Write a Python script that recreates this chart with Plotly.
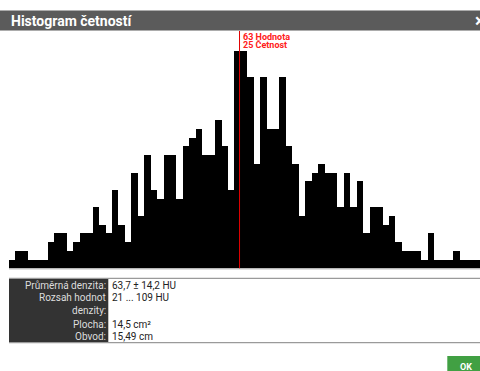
import plotly.graph_objects as go

# ---------------- data ----------------
counts = [1, 2, 2, 1, 1, 1, 3, 4, 4, 2, 3, 4, 4, 7, 5, 4, 9, 5, 3, 11,
          6, 13, 9, 8, 13, 13, 8, 14, 15, 16, 13, 13, 17, 14, 9, 25, 25, 22, 12, 22,
          16, 16, 22, 14, 12, 6, 10, 11, 12, 11, 11, 7, 11, 7, 10, 4, 7, 7, 5, 6,
          3, 2, 2, 2, 1, 4, 1, 1, 1, 2, 1, 1, 1, 1]
hu_min, hu_max = 21, 109
n_bins = 75
marker_value = 63
marker_count = 25
title = "Histogram četností"
table_labels = ["Průměrná denzita:", "Rozsah hodnot", "denzity:", "Plocha:", "Obvod:"]
table_values = ["63,7 ± 14,2 HU", "21 ... 109 HU", "", "14,5 cm²", "15,49 cm"]

W, H = 480, 371
def px(x):
    return x / W
def py(y):
    return 1 - y / H

bw = (hu_max - hu_min) / n_bins
centers = [hu_min + (i + 0.5) * bw for i in range(len(counts))]

FONT = "Roboto, Arial, sans-serif"

fig = go.Figure()
fig.add_trace(go.Bar(x=centers, y=counts, width=bw,
                     marker=dict(color="#000000", line=dict(width=0)),
                     hoverinfo="skip"))

bin_px = 6.44
plot_left, plot_right = 9, 480
x_right = hu_min + (plot_right - plot_left) / bin_px * bw
base_y, top_y = 268.3, 31.0
unit_px = (268.3 - 50.7) / 25
y_top = (base_y - top_y) / unit_px

fig.update_layout(
    width=W, height=H,
    margin=dict(l=0, r=0, t=0, b=0),
    paper_bgcolor="white", plot_bgcolor="white",
    showlegend=False, bargap=0,
    xaxis=dict(domain=[px(plot_left), px(plot_right)], range=[hu_min, x_right],
               showgrid=False, zeroline=False, showticklabels=False, showline=False,
               fixedrange=True),
    yaxis=dict(domain=[py(base_y), py(top_y)], range=[0, y_top],
               showgrid=False, zeroline=False, showticklabels=False, showline=False,
               fixedrange=True),
)

shapes = []
# header bar
shapes.append(dict(type="rect", xref="paper", yref="paper", x0=0, x1=1,
                   y0=py(30.5), y1=py(10.5), fillcolor="#5b5b5b", line=dict(width=0), layer="above"))
# baseline
shapes.append(dict(type="line", xref="paper", yref="paper", x0=px(9), x1=1,
                   y0=py(268.8), y1=py(268.8), line=dict(color="#9a9a9a", width=1)))
# marker line
shapes.append(dict(type="line", xref="x", yref="paper", x0=marker_value, x1=marker_value,
                   y0=py(268.3), y1=py(31), line=dict(color="#e00000", width=1), layer="above"))
# table
shapes.append(dict(type="rect", xref="paper", yref="paper", x0=px(9), x1=px(108.3),
                   y0=py(342.7), y1=py(278.3), fillcolor="#333333", line=dict(width=0)))
for yy in (278.3, 342.7):
    shapes.append(dict(type="line", xref="paper", yref="paper", x0=px(9), x1=1,
                       y0=py(yy), y1=py(yy), line=dict(color="#9a9a9a", width=1.2)))
# OK button
shapes.append(dict(type="rect", xref="paper", yref="paper", x0=px(447.3), x1=1,
                   y0=0, y1=py(356), fillcolor="#41a043", line=dict(width=0)))
fig.update_layout(shapes=shapes)

ann = []
ann.append(dict(text="<b>" + title + "</b>", xref="paper", yref="paper", x=px(8.5), y=py(20.7),
                xanchor="left", yanchor="middle", showarrow=False,
                font=dict(family=FONT, size=14, color="white")))
ann.append(dict(text="<b>×</b>", xref="paper", yref="paper", x=px(480), y=py(20.5),
                xanchor="center", yanchor="middle", showarrow=False,
                font=dict(family=FONT, size=18, color="white")))
ann.append(dict(text="<b>%d Hodnota</b>" % marker_value, xref="x", yref="paper",
                x=marker_value, xshift=1, y=py(37), xanchor="left", yanchor="middle",
                showarrow=False, font=dict(family=FONT, size=9, color="#ff2020")))
ann.append(dict(text="<b>%d Četnost</b>" % marker_count, xref="x", yref="paper",
                x=marker_value, xshift=1, y=py(44.7), xanchor="left", yanchor="middle",
                showarrow=False, font=dict(family=FONT, size=9, color="#ff2020")))
row_y = [285, 297.5, 310.5, 324, 336.5]
for lab, val, yy in zip(table_labels, table_values, row_y):
    ann.append(dict(text=lab, xref="paper", yref="paper", x=px(107.5), y=py(yy),
                    xanchor="right", yanchor="middle", showarrow=False,
                    font=dict(family=FONT, size=10, color="#dddddd")))
    if val:
        ann.append(dict(text=val, xref="paper", yref="paper", x=px(110), y=py(yy),
                        xanchor="left", yanchor="middle", showarrow=False,
                        font=dict(family=FONT, size=10, color="#222222")))
ann.append(dict(text="<b>OK</b>", xref="paper", yref="paper", x=px(466), y=py(366.5),
                xanchor="center", yanchor="middle", showarrow=False,
                font=dict(family=FONT, size=9, color="white")))
fig.update_layout(annotations=ann)

fig.write_html("out.html", config={"displayModeBar": False},
               post_script="document.body.style.margin='0';document.body.style.overflow='hidden';")
